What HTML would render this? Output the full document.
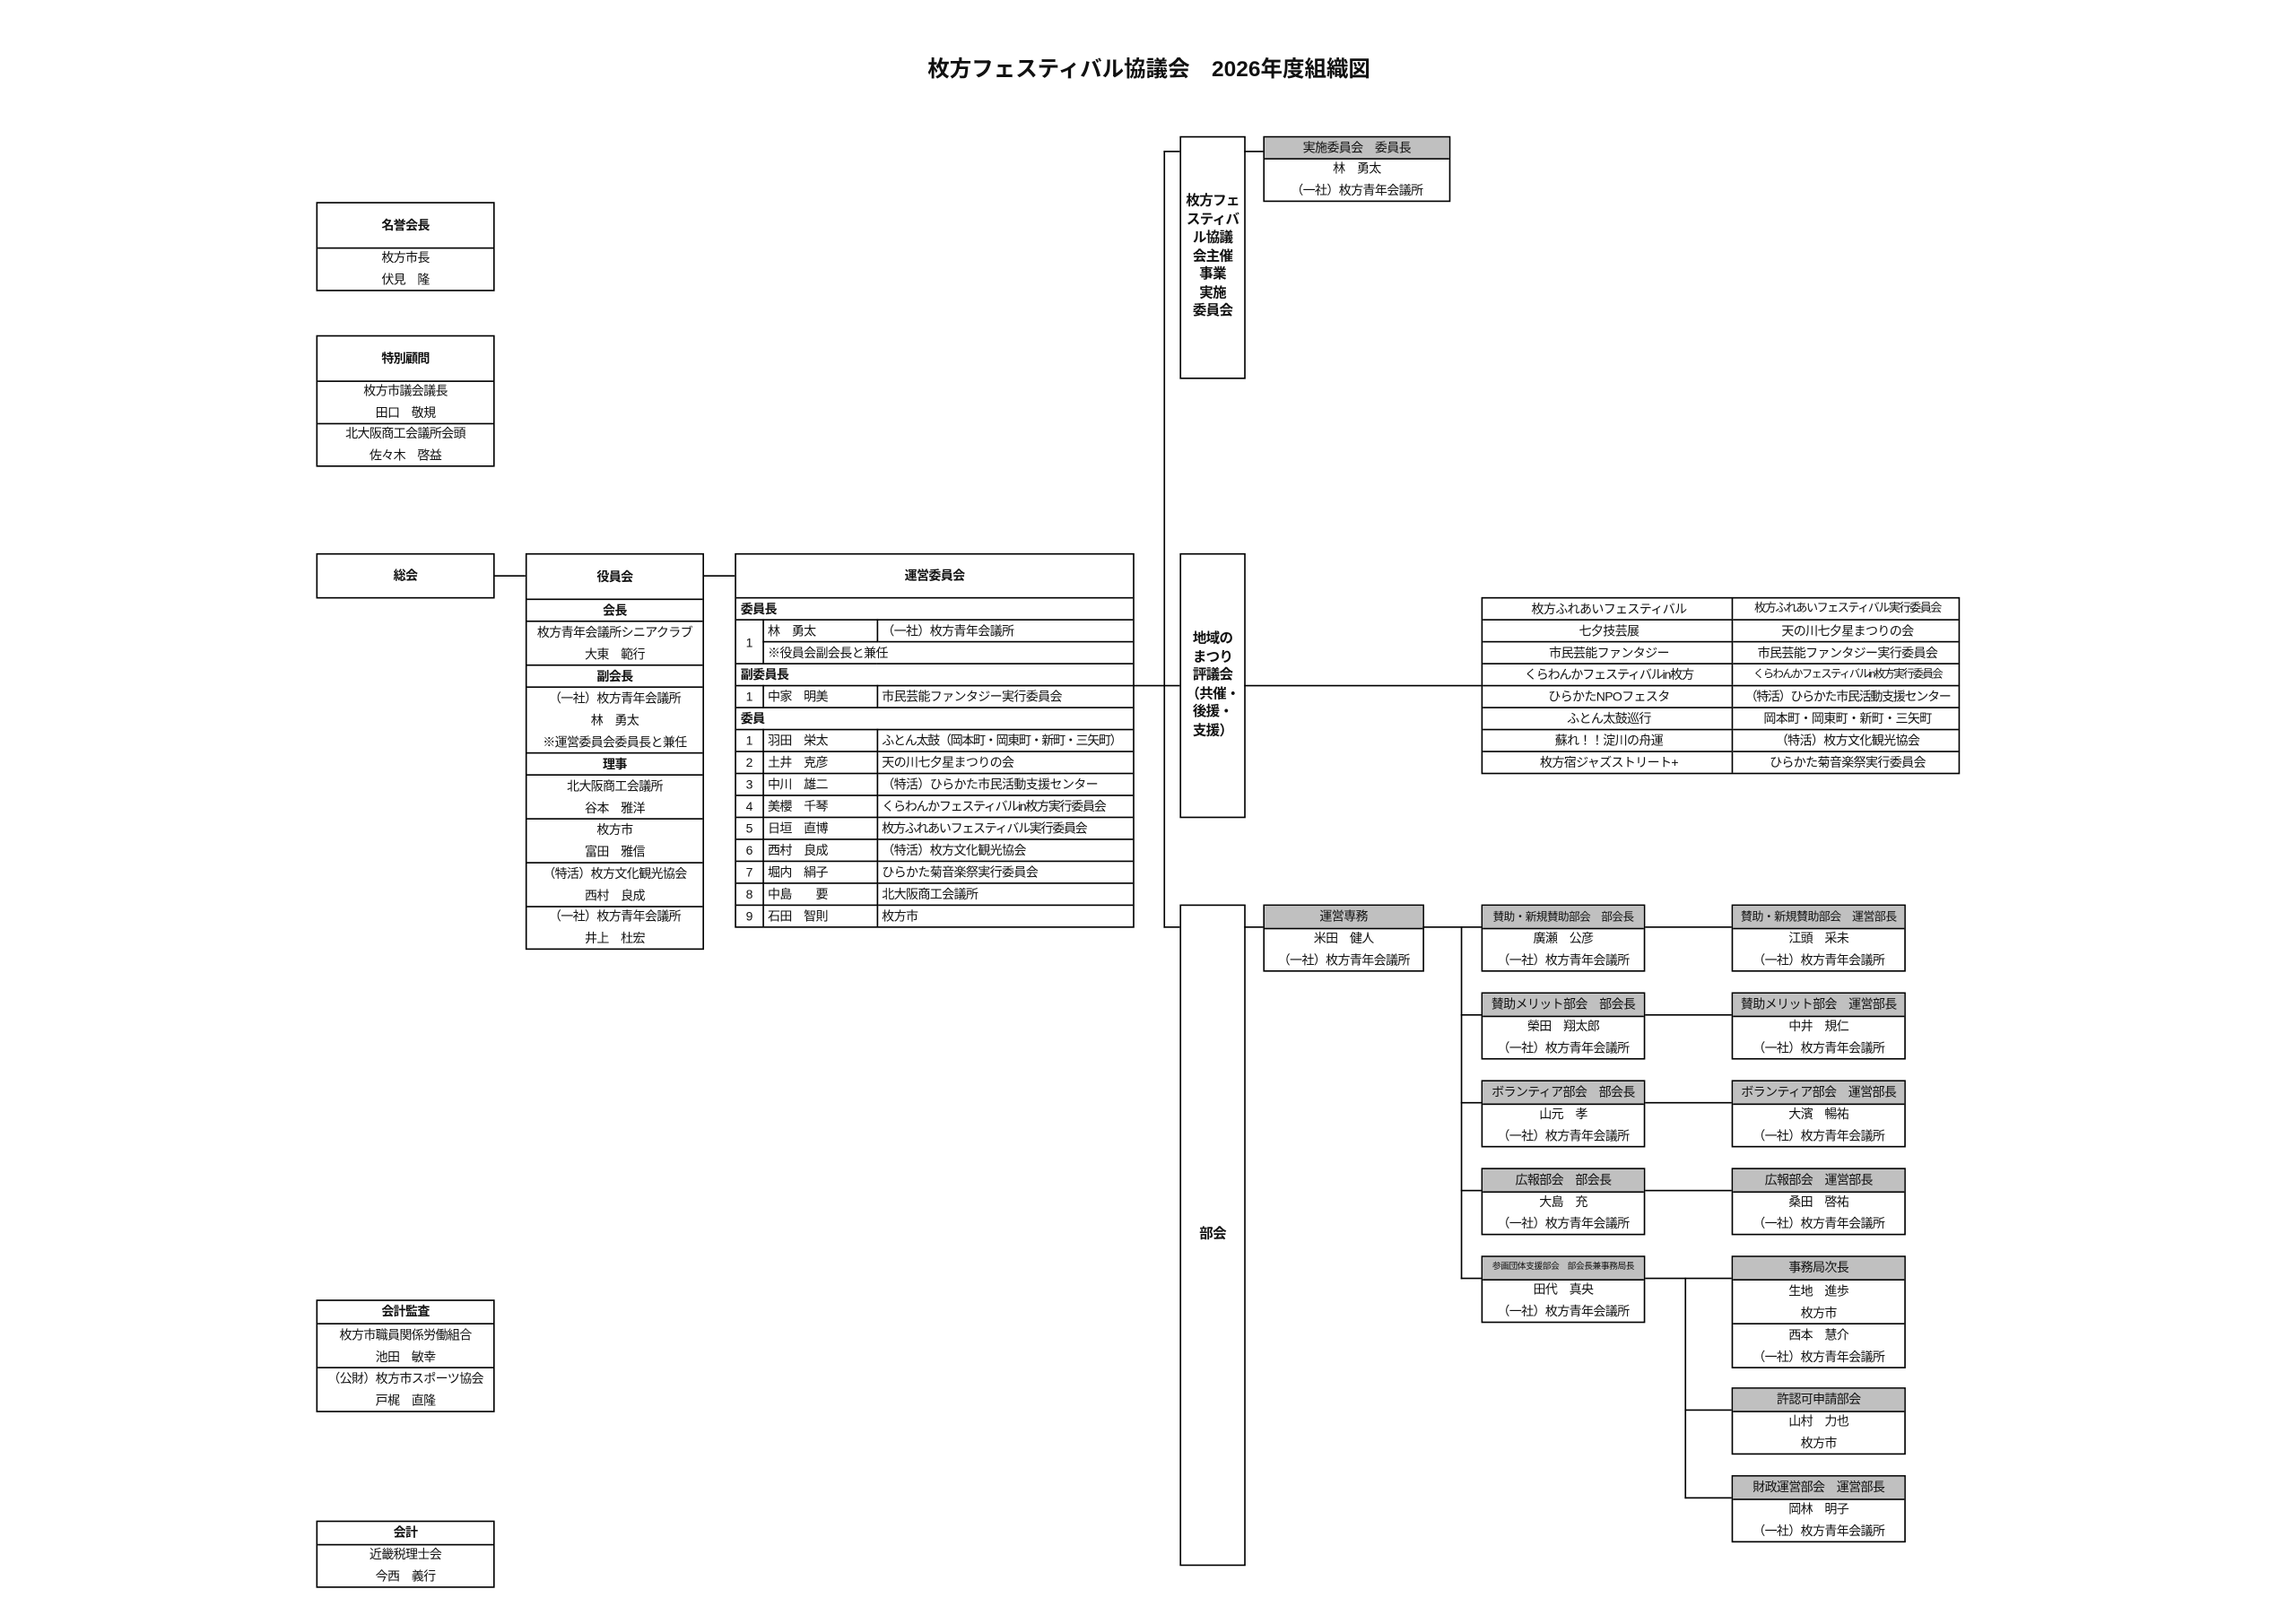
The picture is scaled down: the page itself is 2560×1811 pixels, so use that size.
<!DOCTYPE html>
<html lang="ja"><head><meta charset="utf-8">
<style>
html,body{margin:0;padding:0;background:#fff;}
body{width:2560px;height:1811px;overflow:hidden;position:relative;}
#w{position:absolute;left:0;top:0;width:1553px;height:1099px;transform:scale(1.632);transform-origin:0 0;
font-family:"Liberation Sans","Noto Sans CJK JP",sans-serif;font-size:8.6px;color:#111;letter-spacing:-0.4px;}
.a{position:absolute;box-sizing:border-box;}
.bx{position:absolute;box-sizing:border-box;border:1.3px solid #000;background:#fff;}
.r{box-sizing:border-box;border-top:1px solid #000;display:flex;flex-direction:column;justify-content:center;align-items:center;white-space:nowrap;line-height:15px;overflow:hidden;}
.r:first-child{border-top:none;}
.h{font-weight:bold;}
.g{background:#c0c0c0;}
.hl{position:absolute;height:1.3px;background:#000;}
.vl{position:absolute;width:1.3px;background:#000;}
table{border-collapse:collapse;width:100%;table-layout:fixed;}
td{border:1px solid #000;height:14px;padding:0 0 0 3px;white-space:nowrap;overflow:hidden;line-height:14px;}
.vt{display:flex;align-items:center;justify-content:center;text-align:center;font-weight:bold;line-height:12.5px;font-size:9.5px;}
</style></head><body><div id="w">

<div class="a" style="left:0;top:36px;width:1570px;text-align:center;font-weight:bold;font-size:15px;letter-spacing:0;">枚方フェスティバル協議会　2026年度組織図</div>

<div class="bx" style="left:216px;top:138px;width:122px;height:61px;">
 <div class="r h" style="height:30px;">名誉会長</div>
 <div class="r" style="height:29px;"><span>枚方市長</span><span>伏見　隆</span></div>
</div>
<div class="bx" style="left:216px;top:229px;width:122px;height:90px;">
 <div class="r h" style="height:30px;">特別顧問</div>
 <div class="r" style="height:29px;"><span>枚方市議会議長</span><span>田口　敬規</span></div>
 <div class="r" style="height:29px;"><span>北大阪商工会議所会頭</span><span>佐々木　啓益</span></div>
</div>
<div class="bx" style="left:216px;top:378px;width:122px;height:31px;">
 <div class="r h" style="height:28px;">総会</div>
</div>
<div class="bx" style="left:216px;top:888px;width:122px;height:77px;">
 <div class="r h" style="height:15px;">会計監査</div>
 <div class="r" style="height:30px;"><span>枚方市職員関係労働組合</span><span>池田　敏幸</span></div>
 <div class="r" style="height:30px;"><span>（公財）枚方市スポーツ協会</span><span>戸梶　直隆</span></div>
</div>
<div class="bx" style="left:216px;top:1039px;width:122px;height:46px;">
 <div class="r h" style="height:15px;">会計</div>
 <div class="r" style="height:29px;"><span>近畿税理士会</span><span>今西　義行</span></div>
</div>

<div class="hl" style="left:338px;top:393px;width:21px;"></div>
<div class="hl" style="left:481px;top:393px;width:21px;"></div>

<div class="bx" style="left:359px;top:378px;width:122px;height:271px;">
 <div class="r h" style="height:30px;">役員会</div>
 <div class="r h" style="height:15px;border-top-width:1.5px;">会長</div>
 <div class="r" style="height:30px;"><span>枚方青年会議所シニアクラブ</span><span>大東　範行</span></div>
 <div class="r h" style="height:15px;border-top-width:1.5px;">副会長</div>
 <div class="r" style="height:45px;"><span>（一社）枚方青年会議所</span><span>林　勇太</span><span>※運営委員会委員長と兼任</span></div>
 <div class="r h" style="height:15px;border-top-width:1.5px;">理事</div>
 <div class="r" style="height:30px;"><span>北大阪商工会議所</span><span>谷本　雅洋</span></div>
 <div class="r" style="height:30px;"><span>枚方市</span><span>富田　雅信</span></div>
 <div class="r" style="height:30px;"><span>（特活）枚方文化観光協会</span><span>西村　良成</span></div>
 <div class="r" style="height:29px;"><span>（一社）枚方青年会議所</span><span>井上　杜宏</span></div>
</div>

<div class="bx" style="left:502px;top:378px;width:273px;height:256px;">
 <div class="r h" style="height:30px;border-bottom:1.3px solid #000;">運営委員会</div>
 <table>
  <colgroup><col style="width:18px"><col style="width:78px"><col></colgroup>
  <tr><td colspan="3" class="h" style="border-left:none;border-right:none;border-top:none;">委員長</td></tr>
  <tr><td rowspan="2" style="text-align:center;padding:0;border-left:none;">1</td><td>林　勇太</td><td style="border-right:none;">（一社）枚方青年会議所</td></tr>
  <tr><td colspan="2" style="border-right:none;border-bottom:1.5px solid #000;">※役員会副会長と兼任</td></tr>
  <tr><td colspan="3" class="h" style="border-left:none;border-right:none;">副委員長</td></tr>
  <tr><td style="text-align:center;padding:0;border-left:none;">1</td><td>中家　明美</td><td style="border-right:none;border-bottom:1.5px solid #000;">市民芸能ファンタジー実行委員会</td></tr>
  <tr><td colspan="3" class="h" style="border-left:none;border-right:none;">委員</td></tr>
  <tr><td style="text-align:center;padding:0;border-left:none;">1</td><td>羽田　栄太</td><td style="border-right:none;letter-spacing:-0.8px;">ふとん太鼓（岡本町・岡東町・新町・三矢町）</td></tr>
  <tr><td style="text-align:center;padding:0;border-left:none;">2</td><td>土井　克彦</td><td style="border-right:none;">天の川七夕星まつりの会</td></tr>
  <tr><td style="text-align:center;padding:0;border-left:none;">3</td><td>中川　雄二</td><td style="border-right:none;">（特活）ひらかた市民活動支援センター</td></tr>
  <tr><td style="text-align:center;padding:0;border-left:none;">4</td><td>美櫻　千琴</td><td style="border-right:none;letter-spacing:-0.8px;">くらわんかフェスティバルin枚方実行委員会</td></tr>
  <tr><td style="text-align:center;padding:0;border-left:none;">5</td><td>日垣　直博</td><td style="border-right:none;letter-spacing:-0.8px;">枚方ふれあいフェスティバル実行委員会</td></tr>
  <tr><td style="text-align:center;padding:0;border-left:none;">6</td><td>西村　良成</td><td style="border-right:none;">（特活）枚方文化観光協会</td></tr>
  <tr><td style="text-align:center;padding:0;border-left:none;">7</td><td>堀内　絹子</td><td style="border-right:none;">ひらかた菊音楽祭実行委員会</td></tr>
  <tr><td style="text-align:center;padding:0;border-left:none;">8</td><td>中島　　要</td><td style="border-right:none;">北大阪商工会議所</td></tr>
  <tr><td style="text-align:center;padding:0;border-left:none;border-bottom:none;">9</td><td style="border-bottom:none;">石田　智則</td><td style="border-right:none;border-bottom:none;">枚方市</td></tr>
 </table>
</div>

<div class="vl" style="left:795px;top:103px;height:531px;"></div>
<div class="hl" style="left:795px;top:103px;width:11px;"></div>
<div class="hl" style="left:774px;top:468px;width:32px;"></div>
<div class="hl" style="left:795px;top:633px;width:11px;"></div>

<div class="bx vt" style="left:806px;top:93px;width:45px;height:166px;">枚方フェ<br>スティバ<br>ル協議<br>会主催<br>事業<br>実施<br>委員会</div>
<div class="bx vt" style="left:806px;top:378px;width:45px;height:181px;">地域の<br>まつり<br>評議会<br>（共催・<br>後援・<br>支援）</div>
<div class="bx vt" style="left:806px;top:618px;width:45px;height:452px;">部会</div>

<div class="hl" style="left:850px;top:103px;width:13px;"></div>
<div class="bx" style="left:863px;top:93px;width:128px;height:45px;">
 <div class="r g" style="height:14px;">実施委員会　委員長</div>
 <div class="r" style="height:29px;"><span>林　勇太</span><span>（一社）枚方青年会議所</span></div>
</div>

<div class="hl" style="left:850px;top:468px;width:162px;"></div>
<div class="bx" style="left:1012px;top:408px;width:327px;height:121px;">
 <table style="font-size:8.6px;">
  <colgroup><col style="width:170px"><col></colgroup>
  <tr><td style="text-align:center;border-left:none;border-top:none;border-right:1px dotted #666;">枚方ふれあいフェスティバル</td><td style="text-align:center;border-right:none;border-top:none;letter-spacing:-0.9px;font-size:8px;">枚方ふれあいフェスティバル実行委員会</td></tr>
  <tr><td style="text-align:center;border-left:none;border-right:1px dotted #666;">七夕技芸展</td><td style="text-align:center;border-right:none;">天の川七夕星まつりの会</td></tr>
  <tr><td style="text-align:center;border-left:none;border-right:1px dotted #666;">市民芸能ファンタジー</td><td style="text-align:center;border-right:none;">市民芸能ファンタジー実行委員会</td></tr>
  <tr><td style="text-align:center;border-left:none;border-right:1px dotted #666;letter-spacing:-0.7px;">くらわんかフェスティバルin枚方</td><td style="text-align:center;border-right:none;letter-spacing:-1px;font-size:7.6px;">くらわんかフェスティバルin枚方実行委員会</td></tr>
  <tr><td style="text-align:center;border-left:none;border-right:1px dotted #666;">ひらかたNPOフェスタ</td><td style="text-align:center;border-right:none;letter-spacing:-0.8px;">（特活）ひらかた市民活動支援センター</td></tr>
  <tr><td style="text-align:center;border-left:none;border-right:1px dotted #666;">ふとん太鼓巡行</td><td style="text-align:center;border-right:none;">岡本町・岡東町・新町・三矢町</td></tr>
  <tr><td style="text-align:center;border-left:none;border-right:1px dotted #666;">蘇れ！！淀川の舟運</td><td style="text-align:center;border-right:none;">（特活）枚方文化観光協会</td></tr>
  <tr><td style="text-align:center;border-left:none;border-bottom:none;border-right:1px dotted #666;">枚方宿ジャズストリート+</td><td style="text-align:center;border-right:none;border-bottom:none;">ひらかた菊音楽祭実行委員会</td></tr>
 </table>
</div>

<div class="hl" style="left:850px;top:633px;width:13px;"></div>
<div class="bx" style="left:863px;top:618px;width:110px;height:46px;">
 <div class="r g" style="height:15px;">運営専務</div>
 <div class="r" style="height:29px;"><span>米田　健人</span><span>（一社）枚方青年会議所</span></div>
</div>
<div class="hl" style="left:972px;top:633px;width:40px;"></div>
<div class="vl" style="left:998px;top:633px;height:241px;"></div>
<div class="hl" style="left:998px;top:693px;width:14px;"></div>
<div class="hl" style="left:998px;top:753px;width:14px;"></div>
<div class="hl" style="left:998px;top:813px;width:14px;"></div>
<div class="hl" style="left:998px;top:873px;width:14px;"></div>

<div class="hl" style="left:1123px;top:633px;width:60px;"></div>
<div class="hl" style="left:1123px;top:693px;width:60px;"></div>
<div class="hl" style="left:1123px;top:753px;width:60px;"></div>
<div class="hl" style="left:1123px;top:813px;width:60px;"></div>
<div class="hl" style="left:1123px;top:873px;width:60px;"></div>
<div class="vl" style="left:1151px;top:873px;height:151px;"></div>
<div class="hl" style="left:1151px;top:963px;width:32px;"></div>
<div class="hl" style="left:1151px;top:1023px;width:32px;"></div>

<div class="bx" style="left:1012px;top:618px;width:112px;height:46px;">
 <div class="r g" style="height:15px;font-size:7.8px;">賛助・新規賛助部会　部会長</div>
 <div class="r" style="height:29px;"><span>廣瀬　公彦</span><span>（一社）枚方青年会議所</span></div>
</div>
<div class="bx" style="left:1012px;top:678px;width:112px;height:46px;">
 <div class="r g" style="height:15px;">賛助メリット部会　部会長</div>
 <div class="r" style="height:29px;"><span>榮田　翔太郎</span><span>（一社）枚方青年会議所</span></div>
</div>
<div class="bx" style="left:1012px;top:738px;width:112px;height:46px;">
 <div class="r g" style="height:15px;">ボランティア部会　部会長</div>
 <div class="r" style="height:29px;"><span>山元　孝</span><span>（一社）枚方青年会議所</span></div>
</div>
<div class="bx" style="left:1012px;top:798px;width:112px;height:46px;">
 <div class="r g" style="height:15px;">広報部会　部会長</div>
 <div class="r" style="height:29px;"><span>大島　充</span><span>（一社）枚方青年会議所</span></div>
</div>
<div class="bx" style="left:1012px;top:858px;width:112px;height:46px;">
 <div class="r g" style="height:15px;font-size:6px;letter-spacing:-0.3px;">参画団体支援部会　部会長兼事務局長</div>
 <div class="r" style="height:29px;"><span>田代　真央</span><span>（一社）枚方青年会議所</span></div>
</div>

<div class="bx" style="left:1183px;top:618px;width:119px;height:46px;">
 <div class="r g" style="height:15px;font-size:8px;">賛助・新規賛助部会　運営部長</div>
 <div class="r" style="height:29px;"><span>江頭　采未</span><span>（一社）枚方青年会議所</span></div>
</div>
<div class="bx" style="left:1183px;top:678px;width:119px;height:46px;">
 <div class="r g" style="height:15px;">賛助メリット部会　運営部長</div>
 <div class="r" style="height:29px;"><span>中井　規仁</span><span>（一社）枚方青年会議所</span></div>
</div>
<div class="bx" style="left:1183px;top:738px;width:119px;height:46px;">
 <div class="r g" style="height:15px;">ボランティア部会　運営部長</div>
 <div class="r" style="height:29px;"><span>大濱　暢祐</span><span>（一社）枚方青年会議所</span></div>
</div>
<div class="bx" style="left:1183px;top:798px;width:119px;height:46px;">
 <div class="r g" style="height:15px;">広報部会　運営部長</div>
 <div class="r" style="height:29px;"><span>桑田　啓祐</span><span>（一社）枚方青年会議所</span></div>
</div>
<div class="bx" style="left:1183px;top:858px;width:119px;height:77px;">
 <div class="r g" style="height:15px;">事務局次長</div>
 <div class="r" style="height:30px;"><span>生地　進歩</span><span>枚方市</span></div>
 <div class="r" style="height:30px;"><span>西本　慧介</span><span>（一社）枚方青年会議所</span></div>
</div>
<div class="bx" style="left:1183px;top:948px;width:119px;height:46px;">
 <div class="r g" style="height:15px;">許認可申請部会</div>
 <div class="r" style="height:29px;"><span>山村　力也</span><span>枚方市</span></div>
</div>
<div class="bx" style="left:1183px;top:1008px;width:119px;height:46px;">
 <div class="r g" style="height:15px;">財政運営部会　運営部長</div>
 <div class="r" style="height:29px;"><span>岡林　明子</span><span>（一社）枚方青年会議所</span></div>
</div>

</div></body></html>
